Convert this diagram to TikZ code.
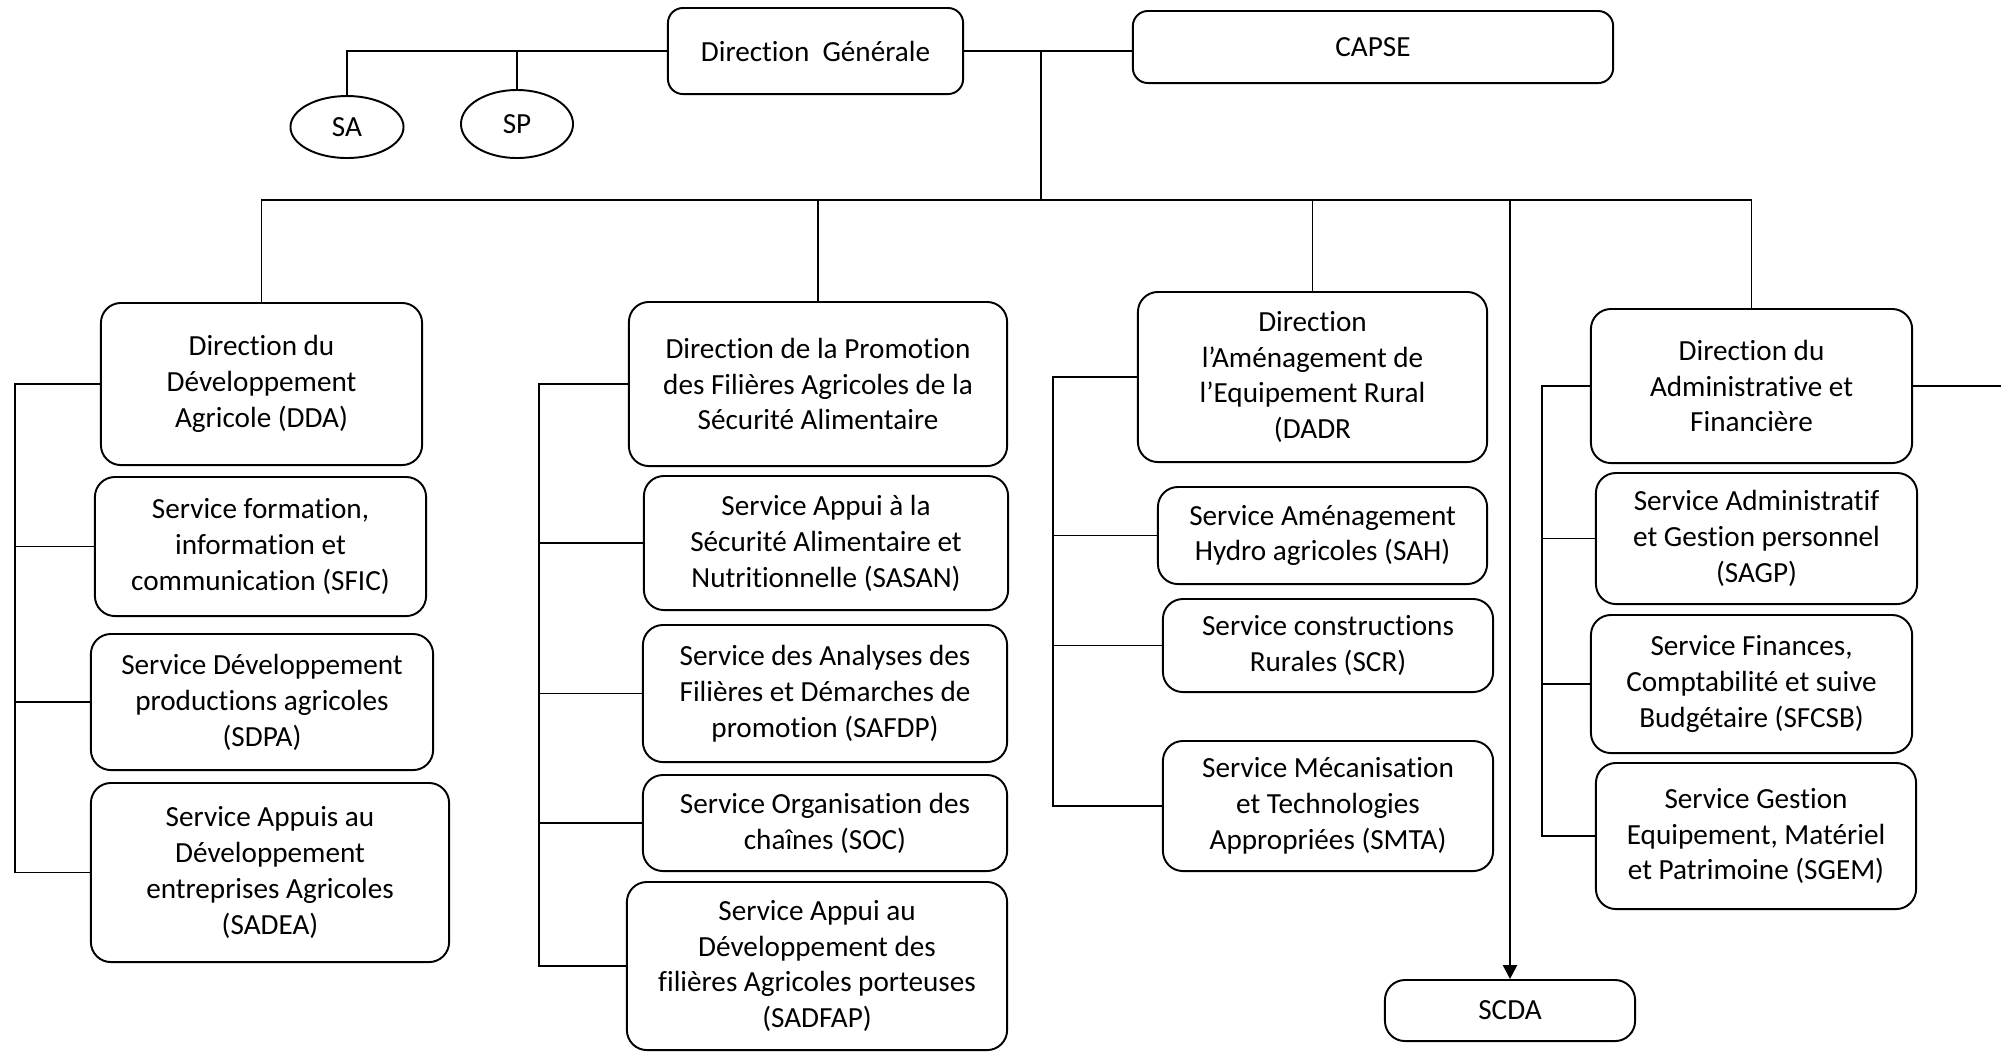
\documentclass[tikz,border=0pt]{standalone}
\usepackage{fontspec}
\setmainfont{Carlito}[Ligatures=NoCommon]
\usetikzlibrary{arrows.meta,shapes}
\tikzset {>={Triangle[length=1.4mm,width=1.4mm]}}
\newcommand*{\orgfont}{\fontsize{8.3}{10.2}\selectfont}
\tikzset{
  unit/.style={draw, line width=0.55pt, rounded corners=0.2cm, align=center, font=\orgfont, inner sep=1pt},
  head/.style={unit, rounded corners=0.15cm},
  bubble/.style={draw, ellipse, line width=0.55pt, font=\orgfont, inner sep=0pt},
  link/.style={line width=0.5pt},
  trunk/.style={line width=0.7pt}
}

\begin{document}
\begin{tikzpicture}[x=0.01cm,y=-0.01cm]
\useasboundingbox (0,0) rectangle (2001,1053);
\node[head, minimum width=2.95cm, minimum height=0.86cm] (dg) at (815.5,51) {Direction\ \ Générale};
\node[head, minimum width=4.80cm, minimum height=0.72cm] (capse) at (1373,47) {CAPSE};
\node[bubble, minimum width=1.13cm, minimum height=0.62cm] (sa) at (347,127) {SA};
\node[bubble, minimum width=1.12cm, minimum height=0.68cm] (sp) at (517,124) {SP};

\node[unit, minimum width=3.21cm, minimum height=1.62cm] (dda) at (261.5,384) {Direction du\\Développement\\Agricole (DDA)};
\node[unit, minimum width=3.31cm, minimum height=1.39cm] (sfic) at (260.5,546.5) {Service formation,\\information et\\communication (SFIC)};
\node[unit, minimum width=3.42cm, minimum height=1.36cm] (sdpa) at (262,702) {Service Développement\\productions agricoles\\(SDPA)};
\node[unit, minimum width=3.58cm, minimum height=1.79cm] (sadea) at (270,872.5) {Service Appuis au\\Développement\\entreprises Agricoles\\(SADEA)};

\node[unit, minimum width=3.78cm, minimum height=1.64cm] (dpf) at (818,384) {Direction de la Promotion\\des Filières Agricoles de la\\Sécurité Alimentaire};
\node[unit, minimum width=3.64cm, minimum height=1.34cm] (sasan) at (826,543) {Service Appui à la\\Sécurité Alimentaire et\\Nutritionnelle (SASAN)};
\node[unit, minimum width=3.64cm, minimum height=1.37cm] (safdp) at (825,693.5) {Service des Analyses des\\Filières et Démarches de\\promotion (SAFDP)};
\node[unit, minimum width=3.64cm, minimum height=0.96cm] (soc) at (825,823) {Service Organisation des\\chaînes (SOC)};
\node[unit, minimum width=3.80cm, minimum height=1.68cm] (sadfap) at (817,966) {Service Appui au\\Développement des\\filières Agricoles porteuses\\(SADFAP)};

\node[unit, minimum width=3.49cm, minimum height=1.70cm] (dadr) at (1312.5,377) {Direction\\l’Aménagement de\\l’Equipement Rural\\(DADR};
\node[unit, minimum width=3.29cm, minimum height=0.97cm] (sah) at (1322.5,535.5) {Service Aménagement\\Hydro agricoles (SAH)};
\node[unit, minimum width=3.30cm, minimum height=0.93cm] (scr) at (1328,645.5) {Service constructions\\Rurales (SCR)};
\node[unit, minimum width=3.30cm, minimum height=1.30cm] (smta) at (1328,806) {Service Mécanisation\\et Technologies\\Appropriées (SMTA)};
\node[unit, minimum width=2.50cm, minimum height=0.61cm] (scda) at (1510,1010.5) {SCDA};

\node[unit, minimum width=3.21cm, minimum height=1.54cm] (daf) at (1751.5,386) {Direction du\\Administrative et\\Financière};
\node[unit, minimum width=3.21cm, minimum height=1.31cm] (sagp) at (1756.5,538.5) {Service Administratif\\et Gestion personnel\\(SAGP)};
\node[unit, minimum width=3.21cm, minimum height=1.38cm] (sfcsb) at (1751.5,684) {Service Finances,\\Comptabilité et suive\\Budgétaire (SFCSB)};
\node[unit, minimum width=3.20cm, minimum height=1.46cm] (sgem) at (1756,836) {Service Gestion\\Equipement, Matériel\\et Patrimoine (SGEM)};

\coordinate (hub) at (1041,51);
\coordinate (bus) at (1041,200);
\coordinate (rim) at (2001,0);
\coordinate (ddabar) at (15,0);
\coordinate (dpfbar) at (539,0);
\coordinate (dadrbar) at (1053,0);
\coordinate (dafbar) at (1542,0);

\draw[trunk] (dg.west) -| (sa.north);
\draw[trunk] (sp.north) -- (sp.north |- dg.west);
\draw[trunk] (dg.east) -- (dg.east -| capse.west);
\draw[link] (hub) -- (bus);
\draw[link] (dda.north) |- (daf.north |- bus) -- (daf.north);
\draw[link] (dpf.north) -- (dpf.north |- bus);
\draw[link] (dadr.north) -- (dadr.north |- bus);
\draw[trunk,->] (scda.north |- bus) -- (scda.north);
\draw[link] (daf.east) -- (daf.east -| rim);

\draw[link] (dda.west) -| (ddabar |- sadea.west) -- (sadea.west);
\draw[link] (sfic.west) -- (sfic.west -| ddabar);
\draw[link] (sdpa.west) -- (sdpa.west -| ddabar);

\draw[link] (dpf.west) -| (dpfbar |- sadfap.west) -- (sadfap.west);
\draw[link] (sasan.west) -- (sasan.west -| dpfbar);
\draw[link] (safdp.west) -- (safdp.west -| dpfbar);
\draw[link] (soc.west) -- (soc.west -| dpfbar);

\draw[link] (dadr.west) -| (dadrbar |- smta.west) -- (smta.west);
\draw[link] (sah.west) -- (sah.west -| dadrbar);
\draw[link] (scr.west) -- (scr.west -| dadrbar);

\draw[link] (daf.west) -| (dafbar |- sgem.west) -- (sgem.west);
\draw[link] (sagp.west) -- (sagp.west -| dafbar);
\draw[link] (sfcsb.west) -- (sfcsb.west -| dafbar);
\end{tikzpicture}
\end{document}
